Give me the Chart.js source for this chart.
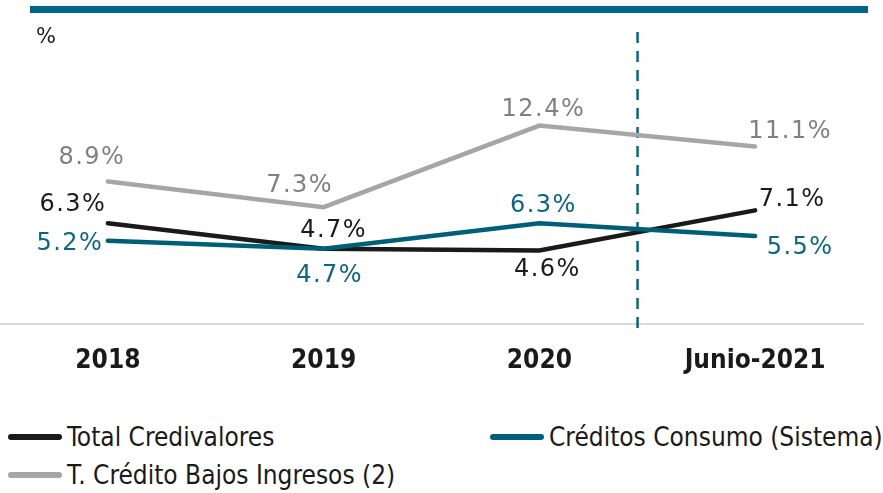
<!DOCTYPE html>
<html>
<head>
<meta charset="utf-8">
<script src="https://cdn.jsdelivr.net/npm/chart.js@4.4.1/dist/chart.umd.min.js"></script>
<style>
    body { margin: 0; background: #fff; width: 883px; height: 493px; overflow: hidden; position: relative; }
    #topBar { position: absolute; left: 30px; top: 6px; width: 838px; height: 7px; background: #006685; }
    #unit { position: absolute; left: 36px; top: 24px; font: 21px "DejaVu Sans", sans-serif; color: #1a1a1a; }
    #chartBox { position: absolute; left: 0; top: 0; width: 883px; height: 400px; }
    #legend { position: absolute; left: 0; top: 422px; width: 883px; font: 26px "DejaVu Sans Condensed", "DejaVu Sans", sans-serif; color: #1a1a1a; }
    .item { position: absolute; display: flex; align-items: center; white-space: nowrap; }
    .swatch { width: 54px; height: 6px; border-radius: 3px; margin-left: 8px; margin-right: 5px; }
</style>
</head>
<body>
<div id="topBar"></div>
<div id="chartBox"><canvas id="chart"></canvas></div>
<div id="unit">%</div>
<div id="legend"></div>
<script>
// data
const categories = ['2018', '2019', '2020', 'Junio-2021'];
const totalCredivalores = [6.3, 4.7, 4.6, 7.1];
const creditosConsumo = [5.2, 4.7, 6.3, 5.5];
const tcBajosIngresos = [8.9, 7.3, 12.4, 11.1];

// label offsets (dx, dy from point) per series
const labelOffsets = {
    total: [[-35, -18], [10, -18], [8, 19], [37, -11]],
    consumo: [[-38, 3], [6, 27], [4, -17], [45, 12]],
    bajos: [[-16, -24], [-24, -21], [4, -16], [35, -15]]
};

const series = [
    { key: 'total', label: 'Total Credivalores', data: totalCredivalores, color: '#1a1a1a', text: '#1a1a1a' },
    { key: 'consumo', label: 'Créditos Consumo (Sistema)', data: creditosConsumo, color: '#005f78', text: '#0b6680' },
    { key: 'bajos', label: 'T. Crédito Bajos Ingresos (2)', data: tcBajosIngresos, color: '#a6a6a6', text: '#808080' }
];

const valueLabels = {
    id: 'valueLabels',
    afterDatasetsDraw(chart) {
        const ctx = chart.ctx;
        ctx.save();
        ctx.font = '24px "DejaVu Sans", sans-serif';
        ctx.letterSpacing = '1.5px';
        ctx.textAlign = 'center';
        ctx.textBaseline = 'middle';
        chart.data.datasets.forEach((ds, i) => {
            const meta = chart.getDatasetMeta(i);
            ctx.fillStyle = ds.labelColor;
            meta.data.forEach((pt, j) => {
                const off = labelOffsets[ds.key][j];
                ctx.fillText(ds.data[j].toFixed(1) + '%', pt.x + off[0], pt.y + off[1]);
            });
        });
        ctx.restore();
    }
};

const dashedDivider = {
    id: 'dashedDivider',
    beforeDatasetsDraw(chart) {
        const x = chart.scales.x;
        const px = x.getPixelForValue(2) + 0.455 * (x.getPixelForValue(3) - x.getPixelForValue(2));
        const ctx = chart.ctx;
        ctx.save();
        ctx.strokeStyle = '#0b6680';
        ctx.lineWidth = 2.5;
        ctx.setLineDash([11, 8]);
        ctx.beginPath();
        ctx.moveTo(px, 32);
        ctx.lineTo(px, 333);
        ctx.stroke();
        ctx.restore();
    }
};

const chart = new Chart(document.getElementById('chart'), {
    type: 'line',
    data: {
        labels: categories,
        datasets: series.map(s => ({
            key: s.key,
            label: s.label,
            data: s.data,
            borderColor: s.color,
            backgroundColor: s.color,
            labelColor: s.text,
            borderWidth: 4.5,
            borderCapStyle: 'round',
            pointRadius: 0,
            tension: 0
        })).reverse()
    },
    options: {
        responsive: true,
        maintainAspectRatio: false,
        animation: false,
        layout: { padding: { left: 0, right: 20, top: 36, bottom: 0 } },
        scales: {
            x: {
                offset: true,
                grid: { display: false },
                border: { display: true, color: '#d9d9d9', width: 2 },
                ticks: {
                    padding: 14,
                    color: '#1a1a1a',
                    font: { family: '"DejaVu Sans Condensed", "DejaVu Sans", sans-serif', size: 26, weight: 'bold' }
                },
                afterFit(scale) { scale.height = 76; }
            },
            y: {
                display: false,
                min: 0,
                max: 18
            }
        },
        plugins: {
            legend: { display: false },
            tooltip: { enabled: false }
        }
    },
    plugins: [dashedDivider, valueLabels]
});

// legend
const legendPos = [[0, 0], [482, 0], [0, 38]];
const legend = document.getElementById('legend');
series.forEach((s, i) => {
    const item = document.createElement('div');
    item.className = 'item';
    item.style.left = legendPos[i][0] + 'px';
    item.style.top = legendPos[i][1] + 'px';
    item.innerHTML = '<span class="swatch" style="background:' + s.color + '"></span><span>' + s.label + '</span>';
    legend.appendChild(item);
});
</script>
</body>
</html>
